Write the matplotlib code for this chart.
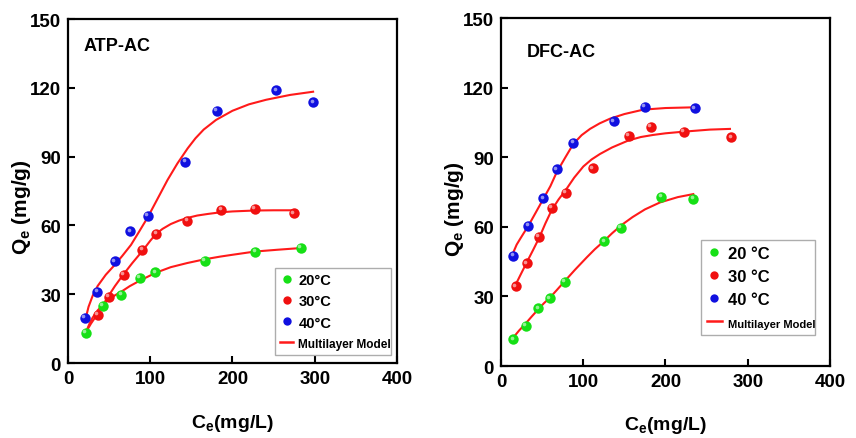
import matplotlib
matplotlib.use("Agg")
import matplotlib.pyplot as plt
import matplotlib.transforms as mtransforms
from matplotlib.lines import Line2D

plt.rcParams["font.family"] = ["Liberation Sans", "DejaVu Sans"]
plt.rcParams["font.weight"] = "bold"
plt.rcParams["mathtext.fontset"] = "custom"
plt.rcParams["mathtext.rm"] = "Liberation Sans:bold"
plt.rcParams["mathtext.default"] = "rm"

# --------------------------------------------------------------------------- #
#  ATP-AC data
# --------------------------------------------------------------------------- #
atp_x20 = [21.5, 42.6, 64.8, 87.5, 106.2, 166.2, 227.8, 282.9]
atp_y20 = [13.1, 24.8, 29.8, 37.0, 39.6, 44.7, 48.4, 50.2]
atp_x30 = [36.5, 49.4, 67.7, 90.4, 107.4, 145.1, 186.4, 226.9, 274.4]
atp_y30 = [21.1, 29.0, 38.5, 49.4, 56.3, 62.1, 66.9, 67.2, 65.3]
atp_x40 = [20.7, 35.7, 56.7, 75.8, 96.9, 142.7, 180.7, 253.3, 298.3]
atp_y40 = [19.6, 30.9, 44.4, 57.4, 64.2, 87.6, 109.9, 118.9, 113.7]

# multilayer model curves
atp_fx20 = [21.9, 26, 30, 36, 42, 50, 57, 64.4, 75, 88.8, 107, 125, 145,
            165.8, 185, 200, 227, 255, 281.7]
atp_fy20 = [13.5, 17.0, 19.8, 22.9, 25.2, 27.8, 29.5, 31.0, 33.5, 36.2, 39.4,
            41.8, 43.6, 45.2, 46.4, 47.2, 48.6, 49.4, 50.1]
atp_fx30 = [21.9, 28, 36.1, 42, 48.3, 57, 66.5, 78, 90.8, 100, 107, 115, 125,
            135, 145.5, 157, 170, 185, 200, 227, 250, 273.6]
atp_fy30 = [13.5, 17.2, 21.5, 25.0, 28.7, 33.5, 38.2, 43.5, 49.0, 53.3, 56.3,
            58.5, 60.6, 62.1, 63.3, 64.3, 65.0, 65.7, 66.1, 66.5, 66.6, 66.6]
atp_fx40 = [21.9, 25, 30, 36.1, 46, 56.4, 66, 76.6, 86, 96.9, 108, 121, 133,
            145.5, 155, 165, 180, 200, 220, 241, 270, 298]
atp_fy40 = [20.0, 24.5, 29.3, 33.6, 38.5, 42.6, 46.7, 51.5, 57.0, 63.5, 71.0,
            79.8, 87.0, 93.6, 98.0, 101.8, 106.0, 110.0, 112.8, 114.8, 116.9, 118.3]

# --------------------------------------------------------------------------- #
#  DFC-AC data
# --------------------------------------------------------------------------- #
dfc_x20 = [15.0, 30.0, 45.4, 59.6, 77.4, 125.6, 145.9, 194.9, 233.8]
dfc_y20 = [11.5, 17.3, 24.9, 29.2, 36.3, 53.7, 59.7, 73.0, 72.0]
dfc_x30 = [17.8, 31.2, 46.2, 61.6, 78.6, 111.4, 155.2, 182.0, 222.5, 280.0]
dfc_y30 = [34.3, 44.2, 55.7, 68.1, 74.6, 85.2, 99.3, 103.2, 100.8, 98.6]
dfc_x40 = [15.0, 33.2, 51.5, 68.1, 87.9, 137.4, 175.1, 235.5]
dfc_y40 = [47.5, 60.5, 72.3, 84.8, 96.2, 105.5, 111.6, 111.1]

dfc_fx20 = [15, 22, 29.2, 37, 45.4, 52, 59.6, 68, 77.8, 90, 104.2, 114, 124.4,
            135, 146.7, 160, 175, 193.3, 215, 233.8]
dfc_fy20 = [12.3, 15.3, 18.0, 21.2, 24.5, 27.0, 29.5, 32.8, 36.7, 41.5, 46.8,
            50.3, 53.6, 57.2, 60.8, 64.2, 67.5, 70.5, 72.8, 74.1]
dfc_fx30 = [17, 24, 31.2, 39, 46.6, 54, 61.6, 70, 78.6, 89, 100.1, 110, 120.4,
            135, 154.8, 170, 185, 200, 221.6, 254, 278.4]
dfc_fy30 = [34.5, 39.5, 44.6, 50.0, 55.4, 61.5, 67.2, 71.8, 75.8, 81.2, 86.0,
            89.0, 91.4, 94.2, 97.2, 98.7, 99.6, 100.3, 101.0, 101.9, 102.2]
dfc_fx40 = [15, 19, 23.1, 28, 33.2, 42, 51.4, 60, 67.7, 78, 87.9, 98, 108.2,
            120, 132.5, 150, 173, 200, 233.8]
dfc_fy40 = [49.0, 52.3, 54.7, 57.5, 60.4, 66.0, 72.0, 77.5, 83.5, 89.8, 95.7,
            99.5, 102.2, 104.6, 106.6, 108.6, 110.5, 111.2, 111.5]

GREEN = "#16e016"
RED = "#f01010"
BLUE = "#1010e0"
LINE_RED = "#ff1a1a"


def sphere(ax, x, y, color, fig, size=7.5):
    ax.plot(x, y, "o", color=color, ms=size, mec=color, mew=0, zorder=3)
    off = mtransforms.ScaledTranslation(-1.2 / 72, 1.2 / 72, fig.dpi_scale_trans)
    ax.plot(x, y, "o", color="white", alpha=0.55, ms=size * 0.35, mew=0,
            transform=ax.transData + off, zorder=4)


def draw_panel(ax, fig, pts, fits, name, name_xy, labels, leg_box, leg_fs, xlab_y):
    for (x, y), (fx, fy), col in zip(pts, fits, [GREEN, RED, BLUE]):
        ax.plot(fx, fy, "-", color=LINE_RED, lw=1.5, zorder=2)
        sphere(ax, x, y, col, fig)

    ax.set_xlim(0, 400)
    ax.set_ylim(0, 150)
    ax.set_xticks([0, 100, 200, 300, 400])
    ax.set_yticks([0, 30, 60, 90, 120, 150])
    ax.tick_params(direction="in", length=5, width=1.5, labelsize=13.5, pad=5)
    for lab in ax.get_xticklabels() + ax.get_yticklabels():
        lab.set_fontweight("bold")
    for sp in ax.spines.values():
        sp.set_linewidth(1.6)

    ax.set_xlabel("C$_\\mathregular{e}$(mg/L)", fontsize=14, fontweight="bold")
    ax.set_ylabel("Q$_\\mathregular{e}$ (mg/g)", fontsize=15, fontweight="bold")
    ax.xaxis.set_label_coords(0.5, xlab_y)
    ax.yaxis.set_label_coords(-0.14, 0.455)
    ax.yaxis.label.set_va("center")
    ax.text(name_xy[0], name_xy[1], name, transform=ax.transAxes, fontsize=13,
            fontweight="bold", ha="left", va="center")

    handles = [
        Line2D([], [], ls="none", marker="o", color=GREEN, ms=6, mew=0),
        Line2D([], [], ls="none", marker="o", color=RED, ms=6, mew=0),
        Line2D([], [], ls="none", marker="o", color=BLUE, ms=6, mew=0),
        Line2D([], [], color=LINE_RED, lw=1.8),
    ]
    leg = ax.legend(handles, labels, loc="lower left", bbox_to_anchor=leg_box,
                    mode="expand", frameon=True, fancybox=False, edgecolor="#999999",
                    handlelength=0.9, handletextpad=0.35, borderaxespad=0,
                    labelspacing=0.5, borderpad=0.35,
                    prop={"size": leg_fs[0], "weight": "bold"})
    leg.get_frame().set_linewidth(1.0)
    leg.get_texts()[3].set_fontsize(leg_fs[1])


fig = plt.figure(figsize=(8.56, 4.39), dpi=100)
ax1 = fig.add_axes([0.0794, 0.1708, 0.3844, 0.7836])
ax2 = fig.add_axes([0.5853, 0.1640, 0.3843, 0.7927])

draw_panel(ax1, fig,
           [(atp_x20, atp_y20), (atp_x30, atp_y30), (atp_x40, atp_y40)],
           [(atp_fx20, atp_fy20), (atp_fx30, atp_fy30), (atp_fx40, atp_fy40)],
           "ATP-AC", (0.046, 0.924),
           ["20°C", "30°C", "40°C", "Multilayer Model"],
           (0.629, 0.023, 0.353, 0.285), (10.5, 8.5), -0.143)

draw_panel(ax2, fig,
           [(dfc_x20, dfc_y20), (dfc_x30, dfc_y30), (dfc_x40, dfc_y40)],
           [(dfc_fx20, dfc_fy20), (dfc_fx30, dfc_fy30), (dfc_fx40, dfc_fy40)],
           "DFC-AC", (0.079, 0.905),
           ["20 °C", "30 °C", "40 °C", "Multilayer Model"],
           (0.608, 0.089, 0.347, 0.29), (12, 8), -0.138)

fig.savefig("out.png", dpi=100)
